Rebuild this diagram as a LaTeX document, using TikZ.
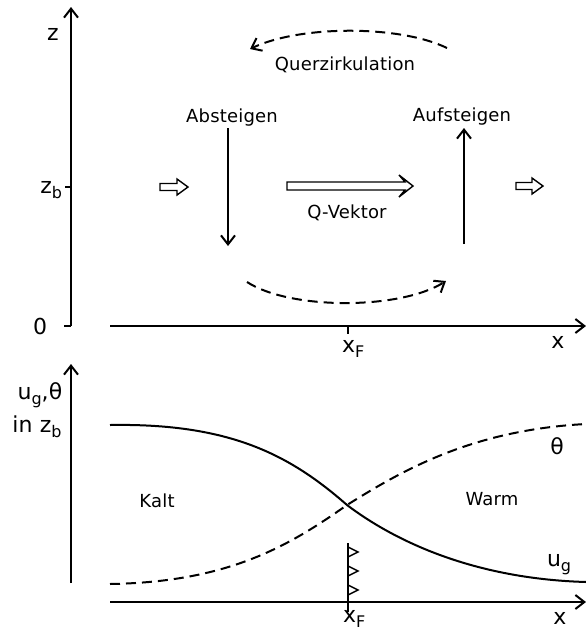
\documentclass[tikz,border=0pt]{standalone}
\usepackage{fontspec}
\setmainfont[LetterSpace=1]{DejaVu Sans}
\usetikzlibrary{arrows.meta}
\newcommand{\low}[1]{\raisebox{-0.45ex}{\fontsize{16}{17}\selectfont #1}}

\begin{document}
\begin{tikzpicture}[x=1pt, y=-1pt, line width=2pt,
        every node/.style={font=\fontsize{18}{20}\selectfont, inner sep=0pt},
        axlabel/.style={font=\fontsize{22}{24}\selectfont},
        vec/.style={-{Straight Barb[length=9pt, width=14pt]}},
        circ/.style={vec, dash pattern=on 10pt off 6pt},
        hollow/.style={line width=1.4pt, line join=miter}]
    \useasboundingbox (0,0) rectangle (586,638);
    \coordinate (zbot) at (71,326);
    \coordinate (ztop) at (71,7);
    \coordinate (x0) at (110,326);
    \coordinate (x1) at (586,326);
    \draw[vec] (zbot) -- (ztop);
    \draw (zbot) -- ++(-7,0);
    \draw (71,187) -- ++(-6,0);
    \draw[vec] (x0) -- (x1);
    \draw (348,326) -- ++(0,8);
    \node[axlabel, anchor=base] (zlab) at (53,40) {z};
    \node[axlabel, anchor=base east] (zb) at (63,193) {z\low{b}};
    \node[axlabel, anchor=base] (null) at (40,334) {0};
    \node[axlabel, anchor=base] (xlab) at (558,348) {x};
    \node[axlabel, anchor=base west] (xf) at (341,352) {x\low{F}};
    \node[anchor=base] (ab) at (232,122) {Absteigen};
    \node[anchor=base] (auf) at (462,121) {Aufsteigen};
    \coordinate (abtop) at (228,128);
    \coordinate (abbot) at (228,246);
    \coordinate (aufbot) at (464,244);
    \coordinate (auftop) at (464,128);
    \draw[vec] (abtop) -- (abbot);
    \draw[vec] (aufbot) -- (auftop);
    \draw[hollow] (160,183.5) -- (177,183.5) -- (177,179) -- (188,187) -- (177,195) -- (177,190.5) -- (160,190.5) -- cycle;
    \draw[hollow] (287,182) -- (405,182) -- (399,175) -- (413,186) -- (399,197) -- (405,190) -- (287,190) -- cycle;
    \draw[hollow] (516,182.5) -- (532,182.5) -- (532,178) -- (543,186) -- (532,194) -- (532,189.5) -- (516,189.5) -- cycle;
    \node[anchor=base] (qlab) at (347,218) {Q-Vektor};
    \node[anchor=base] (quer) at (345,70) {Querzirkulation};
    \coordinate (q1) at (447,48);
    \coordinate (q2) at (250,49);
    \coordinate (r1) at (247,282);
    \coordinate (r2) at (446,281);
    \draw[circ] (q1) .. controls (400,25) and (300,25) .. (q2);
    \draw[circ] (r1) .. controls (290,310) and (400,310) .. (r2);
    \coordinate (ubot) at (71,583);
    \coordinate (utop) at (71,364);
    \coordinate (y0) at (110,602);
    \coordinate (y1) at (586,602);
    \draw[vec] (ubot) -- (utop);
    \draw[vec] (y0) -- (y1);
    \node[axlabel, anchor=base] (ulab) at (40,399) {u\low{g},θ};
    \node[axlabel, anchor=base] (inzb) at (37,432) {in z\low{b}};
    \node[axlabel, anchor=base] (xlab2) at (560,624) {x};
    \node[axlabel, anchor=base west] (xf2) at (342,622) {x\low{F}};
    \node[axlabel, anchor=base] (th) at (557,454) {θ};
    \node[axlabel, anchor=base west] (ug) at (546,566) {u\low{g}};
    \node[anchor=base] (kalt) at (157,507) {Kalt};
    \node[anchor=base] (warm) at (492,505) {Warm};
    \coordinate (front) at (347,505);
    \draw (110,425) .. controls (230,423) and (290,455) .. (front) .. controls (400,545) and (480,579) .. (586,582);
    \draw[dash pattern=on 10pt off 6pt] (110,584) .. controls (230,582) and (290,545) .. (front) .. controls (400,472) and (470,430) .. (586,424);
    \coordinate (ftop) at (348,543);
    \coordinate (fbot) at (348,612);
    \draw (ftop) -- (fbot);
    \draw[line width=1.4pt] (348,547) -- (358,552) -- (348,557);
    \draw[line width=1.4pt] (348,566) -- (358,571) -- (348,576);
    \draw[line width=1.4pt] (348,585) -- (358,590) -- (348,595);
\end{tikzpicture}
\end{document}
